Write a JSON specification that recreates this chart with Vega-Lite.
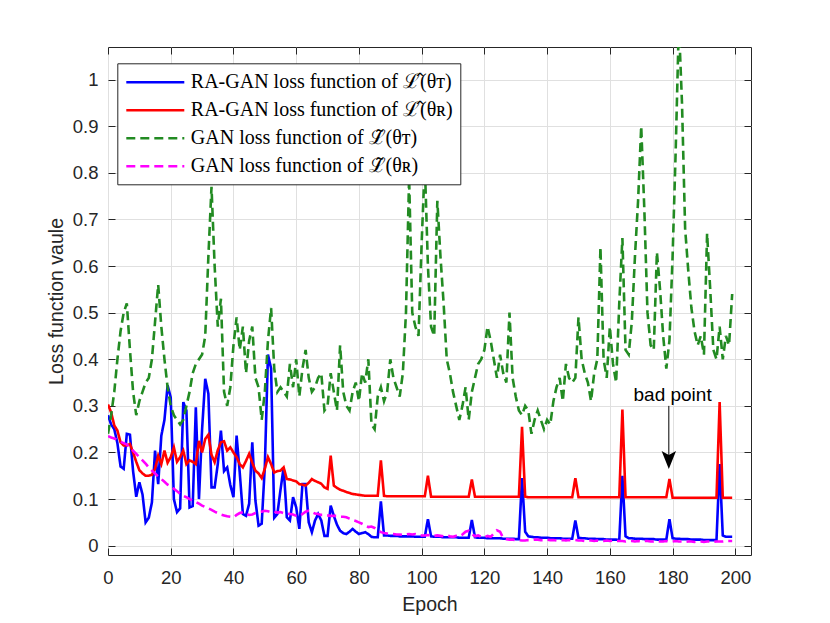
{
  "$schema": "https://vega.github.io/schema/vega-lite/v6.json",
  "width": 643,
  "height": 508,
  "autosize": {"type": "none"},
  "padding": {"left": 108, "top": 47, "right": 79, "bottom": 68},
  "background": "white",
  "config": {
    "view": {"stroke": "#262626", "strokeWidth": 1},
    "font": "Liberation Sans",
    "axis": {
      "labelFont": "Liberation Sans",
      "labelFontSize": 18.5,
      "labelColor": "#262626",
      "titleFont": "Liberation Sans",
      "titleFontSize": 19.5,
      "titleFontWeight": "normal",
      "titleColor": "#262626",
      "tickColor": "#262626",
      "tickSize": -7,
      "tickWidth": 1,
      "domain": false,
      "gridColor": "#e0e0e0",
      "gridWidth": 1,
      "labelFlush": false,
      "labelOverlap": false
    }
  },
  "layer": [
    {
      "data": {
        "values": [
          {"e":0,"b":0.28,"r":0.303,"g":0.24,"m":0.235},
          {"e":1,"b":0.26,"r":0.286,"g":0.28,"m":0.232},
          {"e":2,"b":0.25,"r":0.258,"g":0.33,"m":0.23},
          {"e":3,"b":0.22,"r":0.247,"g":0.40,"m":0.227},
          {"e":4,"b":0.17,"r":0.222,"g":0.46,"m":0.223},
          {"e":5,"b":0.165,"r":0.215,"g":0.50,"m":0.22},
          {"e":6,"b":0.24,"r":0.215,"g":0.52,"m":0.217},
          {"e":7,"b":0.238,"r":0.218,"g":0.42,"m":0.21},
          {"e":8,"b":0.16,"r":0.2,"g":0.33,"m":0.204},
          {"e":9,"b":0.105,"r":0.18,"g":0.28,"m":0.197},
          {"e":10,"b":0.136,"r":0.162,"g":0.31,"m":0.19},
          {"e":11,"b":0.11,"r":0.155,"g":0.33,"m":0.183},
          {"e":12,"b":0.05,"r":0.15,"g":0.35,"m":0.176},
          {"e":13,"b":0.06,"r":0.15,"g":0.36,"m":0.168},
          {"e":14,"b":0.093,"r":0.152,"g":0.40,"m":0.161},
          {"e":15,"b":0.204,"r":0.165,"g":0.48,"m":0.155},
          {"e":16,"b":0.132,"r":0.193,"g":0.56,"m":0.148},
          {"e":17,"b":0.236,"r":0.175,"g":0.47,"m":0.143},
          {"e":18,"b":0.27,"r":0.204,"g":0.40,"m":0.137},
          {"e":19,"b":0.344,"r":0.178,"g":0.34,"m":0.131},
          {"e":20,"b":0.318,"r":0.19,"g":0.30,"m":0.127},
          {"e":21,"b":0.1,"r":0.211,"g":0.28,"m":0.122},
          {"e":22,"b":0.072,"r":0.18,"g":0.27,"m":0.117},
          {"e":23,"b":0.08,"r":0.19,"g":0.26,"m":0.111},
          {"e":24,"b":0.308,"r":0.204,"g":0.27,"m":0.107},
          {"e":25,"b":0.29,"r":0.175,"g":0.30,"m":0.104},
          {"e":26,"b":0.082,"r":0.183,"g":0.33,"m":0.1},
          {"e":27,"b":0.085,"r":0.18,"g":0.37,"m":0.097},
          {"e":28,"b":0.297,"r":0.175,"g":0.39,"m":0.094},
          {"e":29,"b":0.1,"r":0.225,"g":0.40,"m":0.09},
          {"e":30,"b":0.25,"r":0.2,"g":0.41,"m":0.086},
          {"e":31,"b":0.358,"r":0.229,"g":0.45,"m":0.083},
          {"e":32,"b":0.326,"r":0.238,"g":0.62,"m":0.08},
          {"e":33,"b":0.125,"r":0.195,"g":0.77,"m":0.077},
          {"e":34,"b":0.125,"r":0.179,"g":0.60,"m":0.073},
          {"e":35,"b":0.175,"r":0.205,"g":0.47,"m":0.07},
          {"e":36,"b":0.247,"r":0.222,"g":0.53,"m":0.067},
          {"e":37,"b":0.16,"r":0.224,"g":0.33,"m":0.065},
          {"e":38,"b":0.168,"r":0.204,"g":0.30,"m":0.063},
          {"e":39,"b":0.13,"r":0.211,"g":0.34,"m":0.062},
          {"e":40,"b":0.104,"r":0.2,"g":0.43,"m":0.061},
          {"e":41,"b":0.236,"r":0.19,"g":0.49,"m":0.066},
          {"e":42,"b":0.157,"r":0.175,"g":0.42,"m":0.07},
          {"e":43,"b":0.068,"r":0.168,"g":0.47,"m":0.072},
          {"e":44,"b":0.064,"r":0.182,"g":0.37,"m":0.068},
          {"e":45,"b":0.09,"r":0.197,"g":0.44,"m":0.066},
          {"e":46,"b":0.222,"r":0.178,"g":0.47,"m":0.067},
          {"e":47,"b":0.097,"r":0.161,"g":0.36,"m":0.07},
          {"e":48,"b":0.043,"r":0.155,"g":0.34,"m":0.072},
          {"e":49,"b":0.047,"r":0.145,"g":0.27,"m":0.073},
          {"e":50,"b":0.17,"r":0.165,"g":0.33,"m":0.075},
          {"e":51,"b":0.41,"r":0.19,"g":0.44,"m":0.074},
          {"e":52,"b":0.38,"r":0.175,"g":0.51,"m":0.072},
          {"e":53,"b":0.06,"r":0.157,"g":0.38,"m":0.073},
          {"e":54,"b":0.068,"r":0.16,"g":0.33,"m":0.071},
          {"e":55,"b":0.12,"r":0.161,"g":0.34,"m":0.072},
          {"e":56,"b":0.168,"r":0.168,"g":0.33,"m":0.07},
          {"e":57,"b":0.061,"r":0.143,"g":0.32,"m":0.069},
          {"e":58,"b":0.054,"r":0.142,"g":0.39,"m":0.068},
          {"e":59,"b":0.104,"r":0.14,"g":0.34,"m":0.067},
          {"e":60,"b":0.082,"r":0.138,"g":0.40,"m":0.064},
          {"e":61,"b":0.036,"r":0.132,"g":0.32,"m":0.063},
          {"e":62,"b":0.132,"r":0.131,"g":0.38,"m":0.068},
          {"e":63,"b":0.132,"r":0.129,"g":0.42,"m":0.073},
          {"e":64,"b":0.05,"r":0.135,"g":0.36,"m":0.075},
          {"e":65,"b":0.029,"r":0.143,"g":0.33,"m":0.072},
          {"e":66,"b":0.054,"r":0.139,"g":0.34,"m":0.069},
          {"e":67,"b":0.068,"r":0.136,"g":0.36,"m":0.068},
          {"e":68,"b":0.054,"r":0.133,"g":0.37,"m":0.066},
          {"e":69,"b":0.021,"r":0.125,"g":0.29,"m":0.066},
          {"e":70,"b":0.021,"r":0.122,"g":0.30,"m":0.065},
          {"e":71,"b":0.086,"r":0.193,"g":0.37,"m":0.064},
          {"e":72,"b":0.064,"r":0.129,"g":0.33,"m":0.064},
          {"e":73,"b":0.045,"r":0.124,"g":0.29,"m":0.064},
          {"e":74,"b":0.032,"r":0.12,"g":0.43,"m":0.062},
          {"e":75,"b":0.027,"r":0.118,"g":0.33,"m":0.062},
          {"e":76,"b":0.025,"r":0.115,"g":0.30,"m":0.061},
          {"e":77,"b":0.03,"r":0.113,"g":0.29,"m":0.058},
          {"e":78,"b":0.036,"r":0.111,"g":0.33,"m":0.055},
          {"e":79,"b":0.03,"r":0.11,"g":0.35,"m":0.053},
          {"e":80,"b":0.025,"r":0.109,"g":0.31,"m":0.05},
          {"e":81,"b":0.027,"r":0.108,"g":0.37,"m":0.047},
          {"e":82,"b":0.029,"r":0.107,"g":0.35,"m":0.043},
          {"e":83,"b":0.025,"r":0.107,"g":0.40,"m":0.04},
          {"e":84,"b":0.019,"r":0.107,"g":0.26,"m":0.041},
          {"e":85,"b":0.018,"r":0.107,"g":0.25,"m":0.038},
          {"e":86,"b":0.018,"r":0.107,"g":0.32,"m":0.033},
          {"e":87,"b":0.095,"r":0.183,"g":0.34,"m":0.029},
          {"e":88,"b":0.022,"r":0.107,"g":0.31,"m":0.027},
          {"e":89,"b":0.022,"r":0.106,"g":0.33,"m":0.026},
          {"e":90,"b":0.021,"r":0.106,"g":0.40,"m":0.025},
          {"e":91,"b":0.021,"r":0.106,"g":0.36,"m":0.025},
          {"e":92,"b":0.021,"r":0.106,"g":0.34,"m":0.024},
          {"e":93,"b":0.02,"r":0.106,"g":0.32,"m":0.024},
          {"e":94,"b":0.02,"r":0.106,"g":0.37,"m":0.023},
          {"e":95,"b":0.02,"r":0.106,"g":0.50,"m":0.024},
          {"e":96,"b":0.02,"r":0.106,"g":0.79,"m":0.025},
          {"e":97,"b":0.02,"r":0.106,"g":0.50,"m":0.024},
          {"e":98,"b":0.019,"r":0.106,"g":0.47,"m":0.025},
          {"e":99,"b":0.019,"r":0.106,"g":0.45,"m":0.023},
          {"e":100,"b":0.019,"r":0.106,"g":0.65,"m":0.022},
          {"e":101,"b":0.019,"r":0.106,"g":0.82,"m":0.022},
          {"e":102,"b":0.057,"r":0.15,"g":0.60,"m":0.023},
          {"e":103,"b":0.02,"r":0.105,"g":0.47,"m":0.021},
          {"e":104,"b":0.019,"r":0.105,"g":0.45,"m":0.021},
          {"e":105,"b":0.019,"r":0.105,"g":0.74,"m":0.022},
          {"e":106,"b":0.019,"r":0.105,"g":0.62,"m":0.021},
          {"e":107,"b":0.018,"r":0.105,"g":0.52,"m":0.02},
          {"e":108,"b":0.018,"r":0.105,"g":0.40,"m":0.022},
          {"e":109,"b":0.018,"r":0.105,"g":0.37,"m":0.02},
          {"e":110,"b":0.018,"r":0.105,"g":0.33,"m":0.019},
          {"e":111,"b":0.018,"r":0.105,"g":0.30,"m":0.021},
          {"e":112,"b":0.017,"r":0.105,"g":0.27,"m":0.02},
          {"e":113,"b":0.017,"r":0.105,"g":0.30,"m":0.024},
          {"e":114,"b":0.017,"r":0.105,"g":0.34,"m":0.03},
          {"e":115,"b":0.017,"r":0.105,"g":0.27,"m":0.032},
          {"e":116,"b":0.055,"r":0.142,"g":0.33,"m":0.025},
          {"e":117,"b":0.018,"r":0.105,"g":0.36,"m":0.02},
          {"e":118,"b":0.017,"r":0.105,"g":0.39,"m":0.022},
          {"e":119,"b":0.017,"r":0.105,"g":0.40,"m":0.019},
          {"e":120,"b":0.017,"r":0.105,"g":0.42,"m":0.018},
          {"e":121,"b":0.016,"r":0.105,"g":0.47,"m":0.021},
          {"e":122,"b":0.016,"r":0.105,"g":0.44,"m":0.019},
          {"e":123,"b":0.016,"r":0.105,"g":0.40,"m":0.026},
          {"e":124,"b":0.016,"r":0.105,"g":0.36,"m":0.033},
          {"e":125,"b":0.016,"r":0.105,"g":0.41,"m":0.03},
          {"e":126,"b":0.015,"r":0.105,"g":0.37,"m":0.016},
          {"e":127,"b":0.015,"r":0.105,"g":0.35,"m":0.014},
          {"e":128,"b":0.015,"r":0.105,"g":0.50,"m":0.013},
          {"e":129,"b":0.015,"r":0.105,"g":0.36,"m":0.013},
          {"e":130,"b":0.014,"r":0.105,"g":0.32,"m":0.012},
          {"e":131,"b":0.014,"r":0.105,"g":0.29,"m":0.012},
          {"e":132,"b":0.145,"r":0.255,"g":0.28,"m":0.011},
          {"e":133,"b":0.03,"r":0.105,"g":0.30,"m":0.011},
          {"e":134,"b":0.02,"r":0.104,"g":0.29,"m":0.012},
          {"e":135,"b":0.019,"r":0.104,"g":0.24,"m":0.012},
          {"e":136,"b":0.018,"r":0.104,"g":0.27,"m":0.013},
          {"e":137,"b":0.018,"r":0.104,"g":0.29,"m":0.013},
          {"e":138,"b":0.017,"r":0.104,"g":0.27,"m":0.012},
          {"e":139,"b":0.017,"r":0.104,"g":0.25,"m":0.012},
          {"e":140,"b":0.017,"r":0.104,"g":0.27,"m":0.013},
          {"e":141,"b":0.016,"r":0.104,"g":0.26,"m":0.012},
          {"e":142,"b":0.016,"r":0.104,"g":0.31,"m":0.012},
          {"e":143,"b":0.016,"r":0.104,"g":0.34,"m":0.011},
          {"e":144,"b":0.016,"r":0.104,"g":0.36,"m":0.012},
          {"e":145,"b":0.015,"r":0.104,"g":0.31,"m":0.012},
          {"e":146,"b":0.015,"r":0.104,"g":0.39,"m":0.011},
          {"e":147,"b":0.015,"r":0.104,"g":0.36,"m":0.012},
          {"e":148,"b":0.015,"r":0.104,"g":0.35,"m":0.012},
          {"e":149,"b":0.054,"r":0.145,"g":0.36,"m":0.012},
          {"e":150,"b":0.017,"r":0.104,"g":0.49,"m":0.011},
          {"e":151,"b":0.016,"r":0.104,"g":0.40,"m":0.011},
          {"e":152,"b":0.016,"r":0.104,"g":0.37,"m":0.01},
          {"e":153,"b":0.015,"r":0.104,"g":0.35,"m":0.011},
          {"e":154,"b":0.015,"r":0.104,"g":0.31,"m":0.011},
          {"e":155,"b":0.015,"r":0.104,"g":0.37,"m":0.01},
          {"e":156,"b":0.014,"r":0.104,"g":0.40,"m":0.011},
          {"e":157,"b":0.014,"r":0.104,"g":0.64,"m":0.01},
          {"e":158,"b":0.014,"r":0.104,"g":0.40,"m":0.01},
          {"e":159,"b":0.013,"r":0.104,"g":0.36,"m":0.011},
          {"e":160,"b":0.013,"r":0.104,"g":0.47,"m":0.01},
          {"e":161,"b":0.013,"r":0.104,"g":0.39,"m":0.011},
          {"e":162,"b":0.013,"r":0.104,"g":0.35,"m":0.01},
          {"e":163,"b":0.012,"r":0.104,"g":0.52,"m":0.01},
          {"e":164,"b":0.15,"r":0.292,"g":0.66,"m":0.01},
          {"e":165,"b":0.02,"r":0.104,"g":0.42,"m":0.009},
          {"e":166,"b":0.016,"r":0.104,"g":0.41,"m":0.01},
          {"e":167,"b":0.016,"r":0.104,"g":0.48,"m":0.01},
          {"e":168,"b":0.015,"r":0.104,"g":0.62,"m":0.009},
          {"e":169,"b":0.015,"r":0.104,"g":0.74,"m":0.01},
          {"e":170,"b":0.015,"r":0.104,"g":0.90,"m":0.009},
          {"e":171,"b":0.014,"r":0.104,"g":0.72,"m":0.01},
          {"e":172,"b":0.014,"r":0.104,"g":0.50,"m":0.01},
          {"e":173,"b":0.014,"r":0.104,"g":0.43,"m":0.009},
          {"e":174,"b":0.014,"r":0.104,"g":0.42,"m":0.009},
          {"e":175,"b":0.013,"r":0.104,"g":0.63,"m":0.01},
          {"e":176,"b":0.013,"r":0.104,"g":0.55,"m":0.009},
          {"e":177,"b":0.013,"r":0.104,"g":0.45,"m":0.009},
          {"e":178,"b":0.013,"r":0.104,"g":0.38,"m":0.01},
          {"e":179,"b":0.057,"r":0.143,"g":0.44,"m":0.009},
          {"e":180,"b":0.016,"r":0.103,"g":0.62,"m":0.009},
          {"e":181,"b":0.015,"r":0.103,"g":0.85,"m":0.01},
          {"e":182,"b":0.015,"r":0.103,"g":1.12,"m":0.009},
          {"e":183,"b":0.014,"r":0.103,"g":0.95,"m":0.009},
          {"e":184,"b":0.014,"r":0.103,"g":0.68,"m":0.008},
          {"e":185,"b":0.014,"r":0.103,"g":0.59,"m":0.009},
          {"e":186,"b":0.013,"r":0.103,"g":0.51,"m":0.009},
          {"e":187,"b":0.013,"r":0.103,"g":0.46,"m":0.008},
          {"e":188,"b":0.013,"r":0.103,"g":0.43,"m":0.009},
          {"e":189,"b":0.013,"r":0.103,"g":0.45,"m":0.009},
          {"e":190,"b":0.012,"r":0.103,"g":0.41,"m":0.008},
          {"e":191,"b":0.012,"r":0.103,"g":0.67,"m":0.009},
          {"e":192,"b":0.012,"r":0.103,"g":0.55,"m":0.009},
          {"e":193,"b":0.012,"r":0.103,"g":0.42,"m":0.008},
          {"e":194,"b":0.012,"r":0.103,"g":0.40,"m":0.009},
          {"e":195,"b":0.175,"r":0.308,"g":0.47,"m":0.009},
          {"e":196,"b":0.022,"r":0.103,"g":0.40,"m":0.009},
          {"e":197,"b":0.019,"r":0.103,"g":0.45,"m":0.01},
          {"e":198,"b":0.019,"r":0.103,"g":0.43,"m":0.01},
          {"e":199,"b":0.019,"r":0.103,"g":0.54,"m":0.01}
        ]
      },
      "transform": [{"fold": ["b", "r", "g", "m"], "as": ["s", "v"]}],
      "mark": {"type": "line", "clip": true},
      "encoding": {
        "x": {
          "field": "e",
          "type": "quantitative",
          "scale": {"domain": [0, 205], "nice": false, "zero": false},
          "axis": {
            "values": [0, 20, 40, 60, 80, 100, 120, 140, 160, 180, 200],
            "grid": true,
            "title": "Epoch",
            "labelPadding": 20,
            "titlePadding": 9
          }
        },
        "y": {
          "field": "v",
          "type": "quantitative",
          "scale": {"domain": [-0.02, 1.07], "nice": false, "zero": false},
          "axis": {
            "values": [0, 0.1, 0.2, 0.3, 0.4, 0.5, 0.6, 0.7, 0.8, 0.9, 1],
            "format": "~g",
            "grid": true,
            "title": "Loss function vaule",
            "labelPadding": 17,
            "titlePadding": 6
          }
        },
        "color": {
          "field": "s",
          "type": "nominal",
          "scale": {
            "domain": ["b", "r", "g", "m"],
            "range": ["#0000ff", "#ff0000", "#228b22", "#ff00ff"]
          },
          "legend": {
            "title": null,
            "orient": "none",
            "legendX": 9.3,
            "legendY": 16.3,
            "direction": "vertical",
            "symbolType": "M-1,0H4.8",
            "symbolSize": 400,
            "symbolStrokeWidth": 2.5,
            "labelFont": "Liberation Serif, DejaVu Serif",
            "labelFontSize": 20,
            "labelColor": "black",
            "labelLimit": 500,
            "labelOffset": 43,
            "strokeColor": "#262626",
            "fillColor": "white",
            "padding": 7.5,
            "rowPadding": 6,
            "labelExpr": "datum.label == 'b' ? 'RA-GAN loss function of ℒ̂(θᴛ)' : datum.label == 'r' ? 'RA-GAN loss function of ℒ̂(θʀ)' : datum.label == 'g' ? 'GAN loss function of ℒ̃(θᴛ)' : 'GAN loss function of ℒ̃(θʀ)'"
          }
        },
        "strokeDash": {
          "field": "s",
          "type": "nominal",
          "scale": {
            "domain": ["b", "r", "g", "m"],
            "range": [[1, 0], [1, 0], [9, 5], [9, 5]]
          }
        },
        "strokeWidth": {
          "field": "s",
          "type": "nominal",
          "scale": {"domain": ["b", "r", "g", "m"], "range": [2.6, 2.6, 2.3, 2.3]},
          "legend": null
        }
      }
    },
    {
      "data": {"values": [{"ax": 178.8, "ay": 0.3, "ay2": 0.19}]},
      "mark": {"type": "rule", "color": "black", "strokeWidth": 1},
      "encoding": {
        "x": {
          "field": "ax",
          "type": "quantitative",
          "scale": {"domain": [0, 205], "nice": false, "zero": false},
          "axis": {
            "orient": "top",
            "values": [0, 20, 40, 60, 80, 100, 120, 140, 160, 180, 200],
            "labels": false,
            "grid": false,
            "title": null
          }
        },
        "y": {
          "field": "ay",
          "type": "quantitative",
          "scale": {"domain": [-0.02, 1.07], "nice": false, "zero": false},
          "axis": {
            "orient": "right",
            "values": [0, 0.1, 0.2, 0.3, 0.4, 0.5, 0.6, 0.7, 0.8, 0.9, 1],
            "labels": false,
            "grid": false,
            "title": null
          }
        },
        "y2": {"field": "ay2"}
      }
    },
    {
      "data": {"values": [{"hx": 178.8, "hy": 0.184}]},
      "mark": {
        "type": "point",
        "shape": "M0,1L-0.8,-1L0,-0.55L0.8,-1Z",
        "size": 324,
        "filled": true,
        "color": "black",
        "opacity": 1
      },
      "encoding": {
        "x": {"field": "hx", "type": "quantitative", "axis": null},
        "y": {"field": "hy", "type": "quantitative", "axis": null}
      }
    },
    {
      "data": {"values": [{"tx": 180, "ty": 0.311, "label": "bad point"}]},
      "mark": {
        "type": "text",
        "font": "Liberation Sans",
        "fontSize": 19,
        "fontWeight": "normal",
        "color": "black",
        "align": "center",
        "baseline": "alphabetic"
      },
      "encoding": {
        "x": {"field": "tx", "type": "quantitative", "axis": null},
        "y": {"field": "ty", "type": "quantitative", "axis": null},
        "text": {"field": "label"}
      }
    }
  ],
  "resolve": {"axis": {"x": "independent", "y": "independent"}}
}
